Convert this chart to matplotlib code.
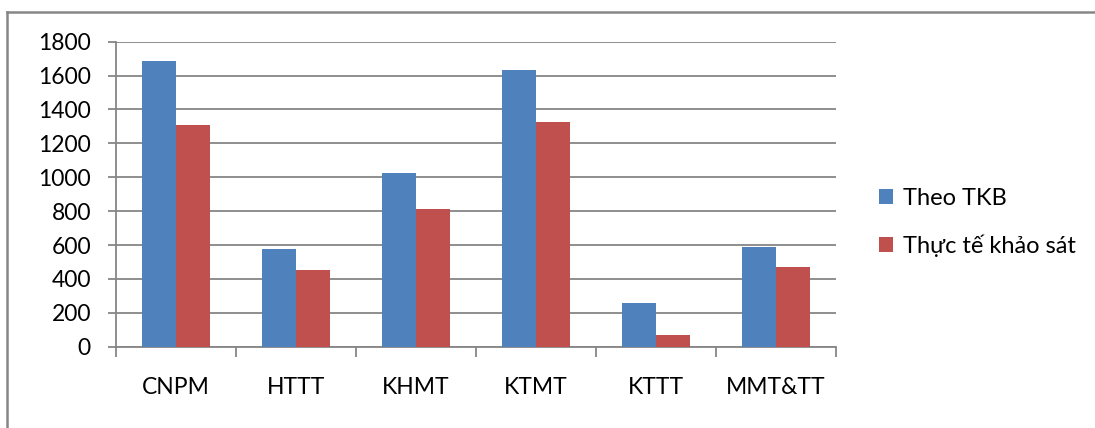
import matplotlib
matplotlib.use("Agg")
import matplotlib.pyplot as plt
import numpy as np
from matplotlib.lines import Line2D

plt.rcParams['font.family'] = ['Lato', 'DejaVu Sans']

categories = ["CNPM", "HTTT", "KHMT", "KTMT", "KTTT", "MMT&TT"]
theo_tkb = [1686, 575, 1025, 1633, 260, 588]
thuc_te = [1307, 453, 811, 1328, 67, 469]
series_names = ["Theo TKB", "Thực tế khảo sát"]
yticks = list(range(0, 1801, 200))

BLUE = "#4F81BD"
RED = "#C0504D"
GRAY = "#868686"
FS = 16.5

fig = plt.figure(figsize=(10.95, 4.28), dpi=100)
ax = fig.add_axes([0.1059, 0.190, 0.6576, 0.7127])

x = np.arange(len(categories))
w = 1 / 3.5  # gap width 150%
ax.bar(x - w / 2, theo_tkb, w, color=BLUE, label=series_names[0], zorder=3)
ax.bar(x + w / 2, thuc_te, w, color=RED, label=series_names[1], zorder=3)

ax.set_xlim(-0.5, len(categories) - 0.5)
ax.set_ylim(0, 1800)
ax.set_yticks(yticks)
ax.set_yticklabels([str(v) for v in yticks])
ax.yaxis.grid(True, color=GRAY, linewidth=1.3, zorder=0)
ax.set_axisbelow(True)

# category boundary ticks below the axis, labels in the middle
ax.set_xticks(np.arange(len(categories) + 1) - 0.5)
ax.set_xticklabels([])
ax.set_xticks(x, minor=True)
ax.set_xticklabels(categories, minor=True)
ax.tick_params(axis='x', which='minor', length=0, pad=22, labelsize=FS)
ax.tick_params(axis='x', which='major', length=7, width=1.3, color=GRAY)
ax.tick_params(axis='y', length=6, width=1.3, color=GRAY, pad=12, labelsize=FS)

for s in ('top', 'right'):
    ax.spines[s].set_visible(False)
for s in ('left', 'bottom'):
    ax.spines[s].set_color(GRAY)
    ax.spines[s].set_linewidth(1.3)

fig.legend(loc='center left', bbox_to_anchor=(0.8027, 0.480), frameon=False,
           fontsize=FS + 0.5, handlelength=0.6, handleheight=0.6,
           handletextpad=0.4, labelspacing=1.1, borderpad=0, borderaxespad=0)

# chart frame: top and left edges
fig.add_artist(Line2D([7 / 1095, 1.0], [1 - 12 / 428, 1 - 12 / 428],
                      transform=fig.transFigure, color=GRAY, linewidth=1.8))
fig.add_artist(Line2D([7 / 1095, 7 / 1095], [0, 1 - 12 / 428],
                      transform=fig.transFigure, color=GRAY, linewidth=1.8))

fig.savefig("out.png", dpi=100)
